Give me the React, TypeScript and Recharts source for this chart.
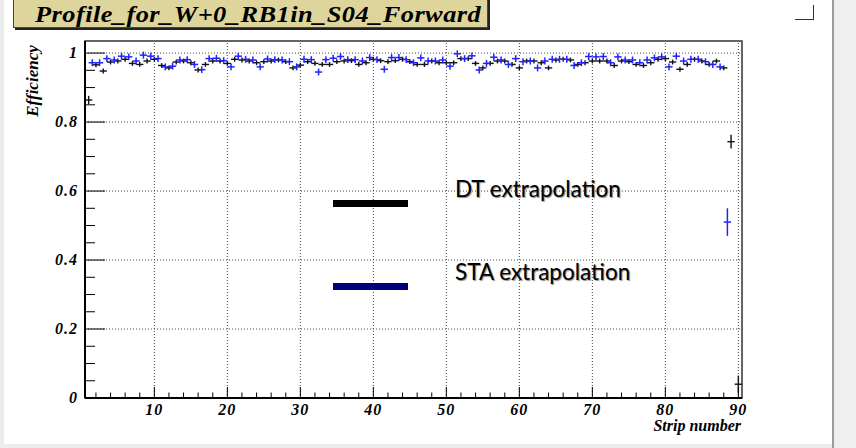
import React from 'react'
import { ScatterChart, Scatter, XAxis, YAxis, ErrorBar, ReferenceLine, ReferenceArea } from 'recharts'

// strip numbers 1..90
const strips = Array.from({ length: 90 }, (_, i) => i + 1)

const dtEff: (number | null)[] = [
  0.864,
  0.966, 0.948, 0.974, 0.977, 0.982, 0.970, 0.967, 0.977, 0.982, 0.964, 0.957, 0.974, 0.977, 0.972, 0.951, 0.967, 0.977, 0.977, 0.970, 0.982, 0.980, 0.977,
  0.972, 0.975, 0.977, 0.980, 0.975, 0.957, 0.965, 0.975, 0.970, 0.967, 0.967, 0.975, 0.977, 0.978, 0.967, 0.972, 0.982, 0.978, 0.975, 0.978, 0.982, 0.975, 0.967,
  0.967, 0.977, 0.972, 0.972, 0.972, 0.984, 0.984, 0.970, 0.957, 0.970, 0.977, 0.977, 0.967, 0.957, 0.977, 0.977, 0.972, 0.957, 0.980, 0.982, 0.980, 0.967, 0.972,
  0.977, 0.977, 0.977, 0.964, 0.977, 0.975, 0.967, 0.964, 0.972, 0.982, 0.984, 0.974, 0.953, 0.967, 0.982, 0.977, 0.967, 0.977, 0.957,
  0.743, 0.04,
]

const staEff: (number | null)[] = [
  null,
  0.972, 0.972, 0.984, 0.980, 0.991, 0.989, 0.977, 0.994, 0.991, 0.984, 0.960, 0.962, 0.980, 0.981, 0.967, 0.952, 0.984, 0.985, 0.978, 0.960, 0.991, 0.982,
  0.980, 0.960, 0.983, 0.981, 0.980, 0.975, 0.960, 0.982, 0.981, 0.945, 0.981, 0.985, 0.990, 0.981, 0.981, 0.977, 0.987, 0.981, 0.953, 0.987, 0.987, 0.981, 0.972,
  0.986, 0.977, 0.977, 0.980, 0.962, 0.998, 0.984, 0.992, 0.951, 0.970, 0.988, 0.980, 0.967, 0.984, 0.975, 0.977, 0.957, 0.977, 0.982, 0.982, 0.982, 0.964, 0.972,
  0.990, 0.989, 0.990, 0.972, 0.989, 0.980, 0.980, 0.972, 0.980, 0.986, 0.989, 0.960, 0.991, 0.977, 0.982, 0.982, 0.975, 0.967, 0.960,
  0.51, null,
]

const dtErrBand = 0.007
const dtErrSpecial: Record<number, number> = { 1: 0.012, 89: 0.02, 90: 0.025 }
const staErrBand = 0.01
const staErrSpecial: Record<number, number> = { 89: 0.04 }
const staShift = -0.5
const binHalf = 0.5

const xTicks = [2, 4, 6, 8, 10, 12, 14, 16, 18, 20, 22, 24, 26, 28, 30, 32, 34, 36, 38, 40, 42, 44, 46, 48, 50, 52, 54, 56, 58, 60, 62, 64, 66, 68, 70, 72, 74, 76, 78, 80, 82, 84, 86, 88, 90]
const xLabels: Record<number, string> = { 10: '10', 20: '20', 30: '30', 40: '40', 50: '50', 60: '60', 70: '70', 80: '80', 90: '90' }
const yTicks = [0, 0.05, 0.1, 0.15, 0.2, 0.25, 0.3, 0.35, 0.4, 0.45, 0.5, 0.55, 0.6, 0.65, 0.7, 0.75, 0.8, 0.85, 0.9, 0.95, 1]
const yLabels: Record<string, string> = { '0': '0', '0.2': '0.2', '0.4': '0.4', '0.6': '0.6', '0.8': '0.8', '1': '1' }
const gridX = [10, 20, 30, 40, 50, 60, 70, 80, 90]
const gridY = [0.2, 0.4, 0.6, 0.8, 1]

const xDomain: [number, number] = [0.5, 90.5]
const yDomain: [number, number] = [0, 1.035]

const dtData = strips
  .map((s, i) => ({ x: s, y: dtEff[i], ex: binHalf, ey: dtErrSpecial[s] ?? dtErrBand }))
  .filter((d) => d.y != null)
const staData = strips
  .map((s, i) => ({ x: s + staShift, y: staEff[i], ex: binHalf, ey: staErrSpecial[s] ?? staErrBand }))
  .filter((d) => d.y != null)

const serif = "'Liberation Serif', 'DejaVu Serif', serif"
const labelFont = { fontFamily: serif, fontWeight: 700, fontStyle: 'italic' as const, fontSize: 16, letterSpacing: 1, fill: '#000' }

function XTick(props: any) {
  const { x, y, payload } = props
  const lab = xLabels[payload.value]
  return (
    <g>
      <line x1={x} x2={x} y1={y} y2={y - (lab ? 11 : 5.5)} stroke="#000" strokeWidth={1} />
      {lab && (
        <text x={x} y={y + 17} textAnchor="middle" {...labelFont}>
          {lab}
        </text>
      )}
    </g>
  )
}

function YTick(props: any) {
  const { x, y, payload } = props
  const lab = yLabels[String(payload.value)]
  return (
    <g>
      <line x1={x} x2={x + (lab ? 20 : 10)} y1={y} y2={y} stroke="#000" strokeWidth={1} />
      {lab && (
        <text x={x - 7} y={y + 5} textAnchor="end" {...labelFont}>
          {lab}
        </text>
      )}
    </g>
  )
}

const NoMarker = () => <g />

export default function App() {
  return (
    <div style={{ position: 'fixed', left: 0, top: 0, width: 856, height: 448, background: '#fff', overflow: 'hidden' }}>
      {/* canvas edges */}
      <div style={{ position: 'absolute', left: 0, top: 0, width: 4, height: 448, background: '#ececec' }} />
      <div style={{ position: 'absolute', left: 0, top: 444, width: 856, height: 4, background: '#ececec' }} />
      <div style={{ position: 'absolute', left: 832, top: 0, width: 2, height: 448, background: '#9a9a9a' }} />
      <div style={{ position: 'absolute', left: 834, top: 0, width: 22, height: 448, background: '#efefef' }} />
      <div style={{ position: 'absolute', left: 795, top: 19, width: 18, height: 1, background: '#333' }} />
      <div style={{ position: 'absolute', left: 813, top: 5, width: 1, height: 15, background: '#333' }} />

      <ScatterChart width={856} height={448} margin={{ top: 41, right: 114, bottom: 49, left: 84 }}>
        <XAxis
          type="number"
          dataKey="x"
          domain={xDomain}
          ticks={xTicks}
          interval={0}
          allowDataOverflow
          height={1}
          tickSize={0}
          tickMargin={0}
          tick={<XTick />}
          axisLine={{ stroke: '#000', strokeWidth: 2 }}
        />
        <YAxis
          type="number"
          dataKey="y"
          domain={yDomain}
          ticks={yTicks}
          interval={0}
          allowDataOverflow
          width={1}
          tickSize={0}
          tickMargin={0}
          tick={<YTick />}
          axisLine={{ stroke: '#000', strokeWidth: 2 }}
        />
        <ReferenceArea x1={xDomain[0]} x2={xDomain[1]} y1={yDomain[0]} y2={yDomain[1]} fill="none" stroke="#333" strokeWidth={1.5} ifOverflow="visible" />
        {gridX.map((g) => (
          <ReferenceLine key={'gx' + g} x={g} stroke="#444" strokeDasharray="1 2" />
        ))}
        {gridY.map((g) => (
          <ReferenceLine key={'gy' + g} y={g} stroke="#444" strokeDasharray="1 2" />
        ))}
        <Scatter data={dtData} dataKey="y" shape={NoMarker} isAnimationActive={false}>
          <ErrorBar dataKey="ex" direction="x" width={0} stroke="#111" strokeWidth={1.4} />
          <ErrorBar dataKey="ey" direction="y" width={0} stroke="#111" strokeWidth={1.4} />
        </Scatter>
        <Scatter data={staData} dataKey="y" shape={NoMarker} isAnimationActive={false}>
          <ErrorBar dataKey="ex" direction="x" width={0} stroke="#2222ff" strokeWidth={1.5} />
          <ErrorBar dataKey="ey" direction="y" width={0} stroke="#2222ff" strokeWidth={1.5} />
        </Scatter>
      </ScatterChart>

      {/* title */}
      <div
        style={{
          position: 'absolute', left: 13, top: -3, width: 473, height: 29, background: '#ddd59b',
          border: '1px solid #444', boxShadow: '2px 2px 0 #222',
        }}
      />
      <div
        style={{
          position: 'absolute', left: 35, top: 2, lineHeight: '24px', fontFamily: serif, fontWeight: 700,
          fontStyle: 'italic', fontSize: 24, letterSpacing: 0.4, whiteSpace: 'nowrap', color: '#000',
          transform: 'scaleX(1.1)', transformOrigin: 'left center',
        }}
      >
        Profile_for_W+0_RB1in_S04_Forward
      </div>

      {/* axis titles */}
      <div
        style={{
          position: 'absolute', left: 33, top: 81, transform: 'translate(-50%, -50%) rotate(-90deg)',
          fontFamily: serif, fontWeight: 700, fontStyle: 'italic', fontSize: 17, whiteSpace: 'nowrap', color: '#000',
        }}
      >
        Efficiency
      </div>
      <div
        style={{
          position: 'absolute', right: 856 - 741, top: 418, lineHeight: '16px', fontFamily: serif, fontWeight: 700,
          fontStyle: 'italic', fontSize: 16, whiteSpace: 'nowrap', color: '#000',
        }}
      >
        Strip number
      </div>

      {/* legend */}
      <div style={{ position: 'absolute', left: 333, top: 200, width: 75, height: 7, background: '#000' }} />
      <div style={{ position: 'absolute', left: 333, top: 283, width: 75, height: 7, background: '#00007c' }} />
      <div style={{ position: 'absolute', left: 455, top: 175, fontFamily: 'Lato, sans-serif', fontSize: 22.5, color: '#000', whiteSpace: 'nowrap', textShadow: '1px 1px 1px #888' }}>
        DT extrapolation
      </div>
      <div style={{ position: 'absolute', left: 455, top: 258, fontFamily: 'Lato, sans-serif', fontSize: 22.5, color: '#000', whiteSpace: 'nowrap', textShadow: '1px 1px 1px #888' }}>
        STA extrapolation
      </div>
    </div>
  )
}
